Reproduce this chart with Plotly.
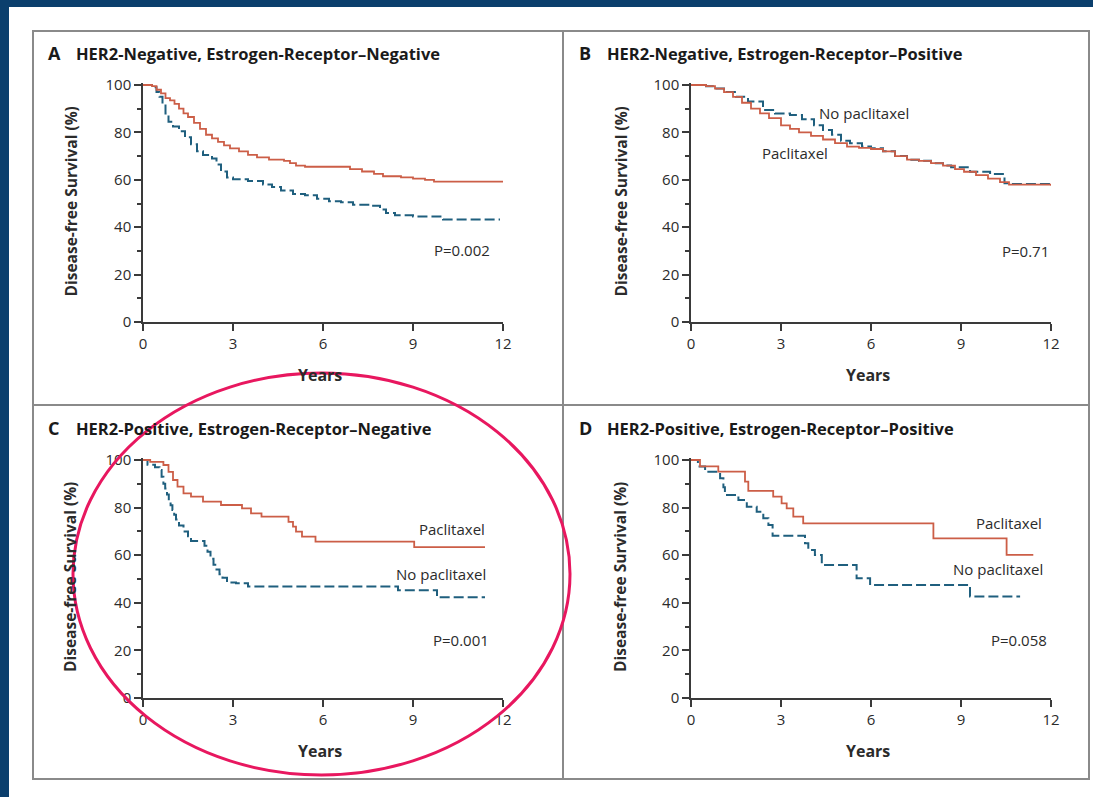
import plotly.graph_objects as go

W, H = 1093, 797

# ---------------- data (years, disease-free survival %) ----------------
a_pac_t = [0, 0.3, 0.45, 0.6, 0.75, 0.9, 1.05, 1.2, 1.35, 1.5, 1.7, 1.9, 2.1, 2.3, 2.5, 2.7, 2.9, 3.2, 3.5, 3.8, 4.2, 4.7, 4.9, 5.1, 5.4, 6.7, 6.9, 7.3, 7.7, 8.0, 8.6, 9.0, 9.4, 9.7, 12.0]
a_pac_s = [100, 99.5, 98, 96.5, 94.5, 93.5, 92, 90, 88, 86.5, 84, 81.5, 79, 77.5, 76, 74.5, 73.3, 72, 70.5, 69.5, 68.5, 68, 67, 66, 65.5, 65.5, 64.5, 63.5, 62.5, 61.5, 61, 60.5, 60, 59.2, 59.2]
a_nop_t = [0, 0.3, 0.45, 0.55, 0.65, 0.75, 0.85, 1.0, 1.2, 1.4, 1.6, 1.8, 2.0, 2.3, 2.45, 2.6, 2.8, 3.0, 3.5, 4.0, 4.3, 4.6, 5.0, 5.4, 5.8, 6.2, 6.6, 7.0, 7.6, 7.9, 8.1, 8.4, 9.0, 10.0, 11.9]
a_nop_s = [100, 99, 97, 95, 92, 88, 84.5, 82.5, 80.5, 78, 75, 72, 70.5, 69, 66.5, 63.5, 61, 60.2, 59.5, 58, 57, 55.5, 54, 53.5, 52, 51, 50.5, 49.5, 49, 47.5, 46, 45, 44.5, 43.3, 43.3]

b_pac_t = [0, 0.5, 0.8, 1.1, 1.4, 1.7, 2.0, 2.3, 2.6, 3.0, 3.3, 3.6, 4.0, 4.4, 4.8, 5.2, 5.6, 6.0, 6.4, 6.8, 7.2, 7.6, 8.0, 8.4, 8.8, 9.1, 9.5, 9.9, 10.3, 10.6, 12.0]
b_pac_s = [100, 99.5, 98.5, 97, 95, 92.5, 90, 88, 86, 83, 81.5, 80, 78.5, 77, 75.5, 74, 73.5, 73, 72, 70, 68.5, 68, 67, 66, 64.5, 63.4, 62, 60.5, 59, 58, 57.5]
b_nop_t = [0, 0.5, 0.8, 1.1, 1.5, 1.9, 2.4, 2.8, 3.3, 3.7, 4.1, 4.4, 4.7, 5.0, 5.3, 5.7, 6.0, 6.4, 6.8, 7.2, 7.6, 8.0, 8.4, 8.67, 9.3, 9.97, 10.45, 10.6, 12.0]
b_nop_s = [100, 99.5, 98.5, 97, 95, 93, 89.5, 88, 87.3, 85.5, 83, 81, 79, 76.5, 75.4, 74, 73.3, 72, 70, 68.5, 68, 67, 66, 65.3, 63.4, 62.4, 58.5, 58.2, 58]

c_pac_t = [0, 0.24, 0.68, 0.85, 1.0, 1.15, 1.35, 1.6, 2.0, 2.6, 3.3, 3.6, 3.95, 4.85, 5.0, 5.1, 5.3, 5.75, 9.04, 11.4]
c_pac_s = [100, 99.2, 97.9, 95, 91.6, 88.8, 86, 84.6, 82.5, 81.1, 79.7, 77.6, 76.2, 74, 72, 69.9, 67.8, 65.7, 63.4, 63.4]
c_nop_t = [0, 0.15, 0.4, 0.55, 0.62, 0.68, 0.74, 0.8, 0.86, 0.92, 0.98, 1.04, 1.1, 1.2, 1.35, 1.5, 1.6, 2.05, 2.15, 2.25, 2.35, 2.45, 2.55, 2.65, 2.8, 3.1, 3.5, 8.5, 9.8, 11.4]
c_nop_s = [100, 98, 97, 95.8, 93, 90, 88, 85.5, 83, 81, 79, 77, 75, 72.5, 70, 68, 66, 64, 61.5, 58.5, 56, 54, 52, 50.5, 48.5, 48.2, 46.8, 45.3, 42.3, 42.3]

d_pac_t = [0, 0.3, 0.91, 1.8, 1.91, 2.74, 3.02, 3.19, 3.41, 3.74, 8.08, 10.52, 11.41]
d_pac_s = [100, 97.3, 95.1, 90.9, 87, 84.6, 81.8, 79.7, 76.2, 73.4, 67.1, 60.1, 60.1]
d_nop_t = [0, 0.23, 0.47, 0.97, 1.08, 1.13, 1.58, 1.86, 2.19, 2.41, 2.58, 2.72, 3.8, 3.91, 4.13, 4.36, 5.52, 5.97, 9.3, 10.97]
d_nop_s = [100, 97.3, 95.1, 92.3, 88.5, 85.3, 83.2, 80.4, 78.3, 75.5, 72.7, 68.2, 65, 62.2, 60.1, 55.9, 50.3, 47.5, 42.6, 42.6]

panel_letters = ["A", "B", "C", "D"]
panel_titles = [
    "HER2-Negative, Estrogen-Receptor\u2013Negative",
    "HER2-Negative, Estrogen-Receptor\u2013Positive",
    "HER2-Positive, Estrogen-Receptor\u2013Negative",
    "HER2-Positive, Estrogen-Receptor\u2013Positive",
]
p_values = ["P=0.002", "P=0.71", "P=0.001", "P=0.058"]
x_ticks = [0, 3, 6, 9, 12]
y_ticks = [0, 20, 40, 60, 80, 100]

# ---------------- styling ----------------
RED = "#cc5e47"
BLUE = "#1f5f7e"
AX = "#3a3a3a"
TXT = "#2b2b2b"
FONT = "Open Sans"

def fx(px):
    return px / W

def fy(py):
    return 1 - py / H

# plot-area pixel boxes: (x of t=0, x of t=12, y of 100%, y of 0%)
boxes = [(143, 503, 85, 322), (691, 1051, 85, 322), (143, 503, 460, 698), (691, 1051, 460, 698)]
YMAX = 101

fig = go.Figure()
layout = dict(
    template="none",
    width=W, height=H, autosize=False,
    margin=dict(l=0, r=0, t=0, b=0, pad=0, autoexpand=False),
    paper_bgcolor="white", plot_bgcolor="rgba(0,0,0,0)",
    showlegend=False,
    font=dict(family=FONT, color=TXT),
)

data_sets = [
    (a_pac_t, a_pac_s, a_nop_t, a_nop_s),
    (b_pac_t, b_pac_s, b_nop_t, b_nop_s),
    (c_pac_t, c_pac_s, c_nop_t, c_nop_s),
    (d_pac_t, d_pac_s, d_nop_t, d_nop_s),
]

annotations = []
for i, (x0p, x1p, y100, y0p) in enumerate(boxes):
    n = "" if i == 0 else str(i + 1)
    xa, ya = "x" + n, "y" + n
    ppu = (y0p - y100) / 100.0
    ytop = y0p - YMAX * ppu
    layout["xaxis" + n] = dict(
        domain=[fx(x0p), fx(x1p)], range=[0, 12], anchor=ya, automargin=False,
        tickvals=x_ticks, ticks="outside", ticklen=7, tickwidth=1.5, tickcolor=AX,
        showline=True, linecolor=AX, linewidth=1.5, showgrid=False, zeroline=False,
        tickfont=dict(size=15, family=FONT, color=TXT), fixedrange=True,
    )
    layout["yaxis" + n] = dict(
        domain=[fy(y0p), fy(ytop)], range=[0, YMAX], anchor=xa, automargin=False,
        tickvals=y_ticks, ticks="outside", ticklen=7, tickwidth=1.5, tickcolor=AX,
        minor=dict(dtick=10, tick0=0, ticks="outside", ticklen=4, tickwidth=1.5, tickcolor=AX),
        showline=True, linecolor=AX, linewidth=1.5, showgrid=False, zeroline=False,
        tickfont=dict(size=15, family=FONT, color=TXT), fixedrange=True,
    )
    pt, ps, nt, ns = data_sets[i]
    fig.add_trace(go.Scatter(x=nt, y=ns, mode="lines", line=dict(color=BLUE, width=2, dash="10px,4px", shape="hv"),
                             xaxis=xa, yaxis=ya, hoverinfo="skip"))
    fig.add_trace(go.Scatter(x=pt, y=ps, mode="lines", line=dict(color=RED, width=1.8, shape="hv"),
                             xaxis=xa, yaxis=ya, hoverinfo="skip"))

    # panel headings
    top = 53 if i < 2 else 428
    left = 46 if i % 2 == 0 else 577
    annotations.append(dict(xref="paper", yref="paper", x=fx(left), y=fy(top), xanchor="left", yanchor="middle",
                            text="<b>%s</b>" % panel_letters[i], showarrow=False,
                            font=dict(size=18, family=FONT, color="#1a1a1a")))
    annotations.append(dict(xref="paper", yref="paper", x=fx(left + 28), y=fy(top), xanchor="left", yanchor="middle",
                            text="<b>%s</b>" % panel_titles[i], showarrow=False,
                            font=dict(size=16.5, family=FONT, color="#1a1a1a")))
    # axis titles
    ylab_x = 70 if i % 2 == 0 else 620
    annotations.append(dict(xref="paper", yref="paper", x=fx(ylab_x), y=fy((y100 + y0p) / 2 - 2),
                            xanchor="center", yanchor="middle", textangle=-90,
                            text="<b>Disease-free Survival (%)</b>", showarrow=False,
                            font=dict(size=15.5, family=FONT, color=TXT)))
    annotations.append(dict(xref="paper", yref="paper", x=fx((x0p + x1p) / 2 - 3), y=fy(y0p + 53),
                            xanchor="center", yanchor="middle",
                            text="<b>Years</b>", showarrow=False,
                            font=dict(size=16, family=FONT, color=TXT)))

# curve labels and P values (data coordinates of each panel)
def lab(axn, x, y, text, anchor):
    annotations.append(dict(xref="x" + axn, yref="y" + axn, x=x, y=y, text=text, showarrow=False,
                            xanchor=anchor, yanchor="middle", font=dict(size=15, family=FONT, color=TXT)))

lab("", 12.03, 66.7, "Paclitaxel", "right")
lab("", 12.13, 50.6, "No paclitaxel", "right")
lab("", 11.63, 30.4, p_values[0], "right")
lab("2", 4.2, 88.2, "No paclitaxel", "left")
lab("2", 2.3, 71.3, "Paclitaxel", "left")
lab("2", 12.0, 30.0, p_values[1], "right")
lab("3", 11.45, 70.9, "Paclitaxel", "right")
lab("3", 11.5, 52.3, "No paclitaxel", "right")
lab("3", 11.6, 24.2, p_values[2], "right")
lab("4", 11.75, 73.4, "Paclitaxel", "right")
lab("4", 11.8, 54.2, "No paclitaxel", "right")
lab("4", 11.93, 24.5, p_values[3], "right")

layout["annotations"] = annotations

NAVY = "#0b3f6d"
FRAME = "#8a8a8a"
shapes = [
    # navy border bands
    dict(type="rect", xref="paper", yref="paper", x0=0, x1=1, y0=fy(7), y1=1, fillcolor=NAVY, line=dict(width=0), layer="below"),
    dict(type="rect", xref="paper", yref="paper", x0=0, x1=fx(9), y0=0, y1=1, fillcolor=NAVY, line=dict(width=0), layer="below"),
    # panel frame
    dict(type="rect", xref="paper", yref="paper", x0=fx(33), x1=fx(1089), y0=fy(779), y1=fy(31),
         line=dict(color=FRAME, width=2), layer="below"),
    dict(type="line", xref="paper", yref="paper", x0=fx(563), x1=fx(563), y0=fy(779), y1=fy(31),
         line=dict(color=FRAME, width=2), layer="below"),
    dict(type="line", xref="paper", yref="paper", x0=fx(33), x1=fx(1089), y0=fy(405), y1=fy(405),
         line=dict(color=FRAME, width=2), layer="below"),
    # highlight ellipse around panel C
    dict(type="circle", xref="paper", yref="paper", x0=fx(73), x1=fx(570), y0=fy(775), y1=fy(373),
         line=dict(color="#e8175f", width=3), layer="above"),
]
layout["shapes"] = shapes

fig.update_layout(**layout)

post = (
    "document.documentElement.style.margin='0';document.documentElement.style.padding='0';"
    "document.body.style.margin='0';document.body.style.padding='0';document.body.style.overflow='hidden';"
    "var d=document.querySelector('.plotly-graph-div');"
    "if(d){d.style.position='fixed';d.style.left='0px';d.style.top='0px';}"
)
fig.write_html("out.html", config={"displayModeBar": False}, post_script=post)
